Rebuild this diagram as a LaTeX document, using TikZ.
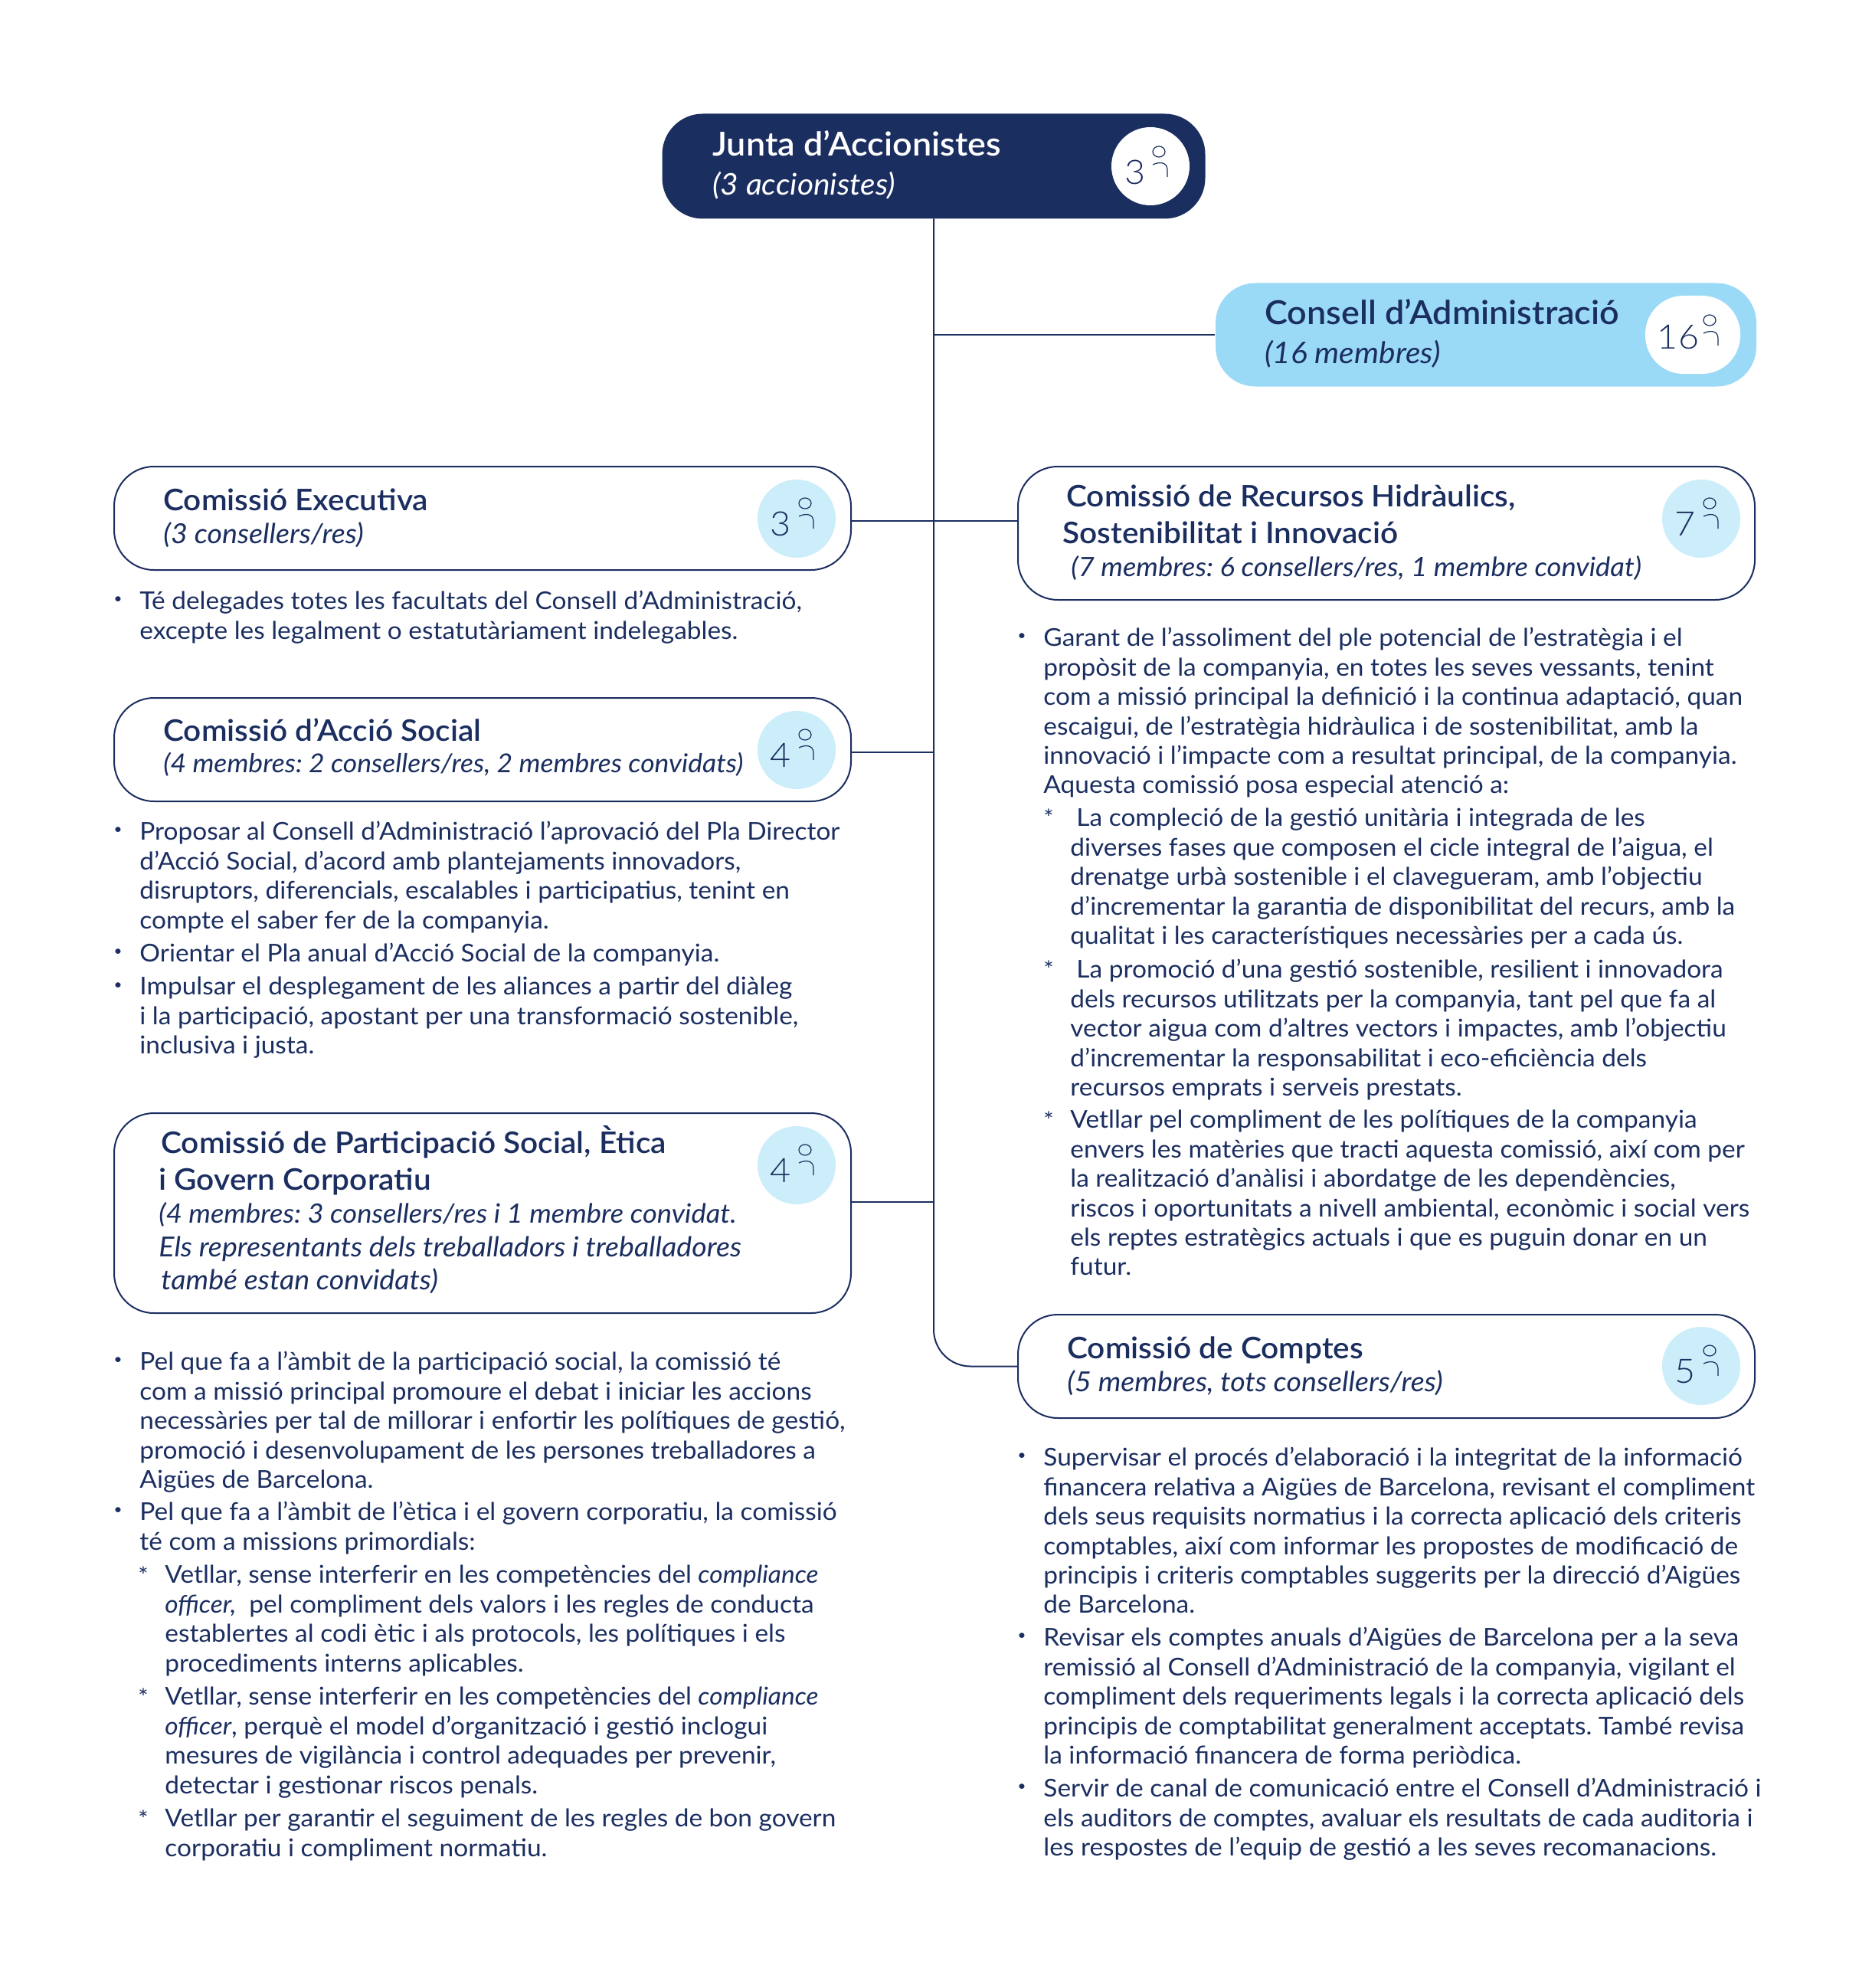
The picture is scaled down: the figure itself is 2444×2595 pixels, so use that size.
\documentclass[tikz,border=0pt]{standalone}
\usepackage{fontspec}
\setmainfont{Lato}[BoldFont=* Semibold,FakeStretch=1.045]
\newfontfamily\lightfont{Lato Light}[FakeStretch=1.06]
\usetikzlibrary{calc}
\definecolor{navy}{HTML}{1B2E60}
\definecolor{sky}{HTML}{9BDAF6}
\definecolor{pale}{HTML}{CCEDFA}
\tikzset{
  pill/.style={draw=navy,line width=1pt,fill=white,rounded corners=26pt,minimum height=67.5pt,inner sep=0pt},
  link/.style={draw=navy,line width=1pt},
  badge/.style={circle,fill=pale,minimum size=51pt,inner sep=0pt},
  count/.style={text=navy,font=\lightfont\fontsize{22}{22}\selectfont,inner sep=0pt},
  title/.style={anchor=mid west,inner sep=0pt,yshift=-4.5pt,text=navy,font=\fontsize{19.4}{19.4}\selectfont\bfseries\frenchspacing},
  bigtitle/.style={title,font=\fontsize{21.5}{21.5}\selectfont\bfseries\frenchspacing},
  sub/.style={anchor=mid west,inner sep=0pt,yshift=-3.75pt,text=navy,font=\fontsize{18}{18}\selectfont\itshape\frenchspacing},
  bigsub/.style={sub,font=\fontsize{19.5}{19.5}\selectfont\itshape\frenchspacing},
  tightsub/.style={sub,font=\fontsize{17.4}{17.4}\selectfont\itshape\frenchspacing},
  narrowsub/.style={sub,font=\fontsize{17}{17}\selectfont\itshape\frenchspacing},
  body/.style={anchor=north west,inner sep=0pt,align=left,text=navy,font=\fontsize{16}{19.2}\selectfont\frenchspacing},
  bull/.style={anchor=center,inner sep=0pt,text=navy,font=\fontsize{9}{9}\selectfont},
  star/.style={anchor=north,inner sep=0pt,text=navy,font=\fontsize{15}{15}\selectfont},
  person/.pic={\draw[navy,line width=.6pt] (0,0) ellipse (8 and 7);
    \draw[navy,line width=.6pt] (-8,17) .. controls (0,13) and (11,13) .. (11,24) -- (11,33);}
}
\newcommand{\bitem}[4]{\node[bull] at (#1-28,#2) {•}; \node[body] (#3) at (#1,#2-12) {#4};}
\newcommand{\sitem}[4]{\node[star] at (#1-28,#2-11) {*}; \node[body] (#3) at (#1,#2-12) {#4};}
\begin{document}
\begin{tikzpicture}[x=.5pt,y=-.5pt]
\useasboundingbox (0,0) rectangle (2444,2595);
% boxes
\node[pill,fill=navy,minimum width=353.5pt] (junta) at (1219,217) {};
\node[pill,draw=none,fill=sky,minimum width=353pt] (consell) at (1940,437) {};
\node[pill,minimum width=481pt] (exec) at (630,676.5) {};
\node[pill,minimum width=481pt] (accio) at (630,978.5) {};
\node[pill,minimum width=481pt,minimum height=130.5pt] (part) at (630,1583.5) {};
\node[pill,minimum width=481pt,minimum height=87pt] (recursos) at (1810,696) {};
\node[pill,minimum width=481pt] (comptes) at (1810,1783.5) {};
% links
\coordinate (t1) at (1219,680);
\coordinate (t2) at (1219,982);
\coordinate (t3) at (1219,1569);
\draw[link,rounded corners=24pt] (junta.south) |- (comptes.west);
\draw[link] (junta.south |- consell.west) -- (consell.west);
\draw[link] (exec.east |- t1) -- (recursos.west |- t1);
\draw[link] (accio.east |- t2) -- (t2);
\draw[link] (part.east |- t3) -- (t3);
% badges
\node[badge,fill=white] (bjunta) at (1502,217) {};
\node[draw=none,fill=white,rounded corners=25pt,minimum width=62pt,minimum height=51pt,inner sep=0pt] (bconsell) at (2210,437) {};
\foreach \nm/\x/\y/\n in {bexec/1040/677/3,baccio/1040/979/4,bpart/1040/1521/4,brecursos/2221/677/7,bcomptes/2221/1783/5}{
  \node[badge] (\nm) at (\x,\y) {};
  \node[count] (\nm n) at ($(\nm)+(-21,7)$) {\n};
  \pic at ($(\nm)+(11,-20)$) {person};
}
\node[count] (bjuntan) at ($(bjunta)+(-20,8)$) {3};
\pic at ($(bjunta)+(11,-19)$) {person};
\node[count] (bconselln) at ($(bconsell)+(-19,3)$) {16};
\pic at ($(bconsell)+(22,-19)$) {person};
% titles
\node[bigtitle,text=white] (tjunta) at (930,189) {Junta d’Accionistes};
\node[bigsub,text=white] (sjunta) at (930,242) {(3 accionistes)};
\node[bigtitle] (tconsell) at (1651,409) {Consell d’Administració};
\node[bigsub] (sconsell) at (1651,462) {(16 membres)};
\node[title] (texec) at (213,652) {Comissió Executiva};
\node[sub] (sexec) at (213,697) {(3 consellers/res)};
\node[title] (taccio) at (213,953) {Comissió d’Acció Social};
\node[narrowsub] (saccio) at (213,996) {(4 membres: 2 consellers/res, 2 membres convidats)};
\node[title] (tpart) at (210,1491) {Comissió de Participació Social, Ètica};
\node[title] (tparti) at (207,1539) {i Govern Corporatiu};
\node[tightsub] (spart) at (207,1584) {(4 membres: 3 consellers/res i 1 membre convidat.};
\node[sub] (sparti) at (207,1628) {Els representants dels treballadors i treballadores};
\node[sub] (spartii) at (210,1671) {també estan convidats)};
\node[title] (trec) at (1392,647) {Comissió de Recursos Hidràulics,};
\node[title] (treci) at (1387,695) {Sostenibilitat i Innovació};
\node[tightsub] (srec) at (1398,740) {(7 membres: 6 consellers/res, 1 membre convidat)};
\node[title] (tcomptes) at (1393,1759) {Comissió de Comptes};
\node[sub] (scomptes) at (1393,1804) {(5 membres, tots consellers/res)};
% left column
\bitem{182}{783}{e1}{Té delegades totes les facultats del Consell d’Administració,\\excepte les legalment o estatutàriament indelegables.}
\bitem{182}{1084}{a1}{Proposar al Consell d’Administració l’aprovació del Pla Director\\d’Acció Social, d’acord amb plantejaments innovadors,\\disruptors, diferencials, escalables i participatius, tenint en\\compte el saber fer de la companyia.}
\bitem{182}{1243}{a2}{Orientar el Pla anual d’Acció Social de la companyia.}
\bitem{182}{1287}{a3}{Impulsar el desplegament de les aliances a partir del diàleg\\i la participació, apostant per una transformació sostenible,\\inclusiva i justa.}
\bitem{182}{1776}{p1}{Pel que fa a l’àmbit de la participació social, la comissió té\\com a missió principal promoure el debat i iniciar les accions\\necessàries per tal de millorar i enfortir les polítiques de gestió,\\promoció i desenvolupament de les persones treballadores a\\Aigües de Barcelona.}
\bitem{182}{1972}{p2}{Pel que fa a l’àmbit de l’ètica i el govern corporatiu, la comissió\\té com a missions primordials:}
\sitem{215}{2055}{p3}{Vetllar, sense interferir en les competències del \textit{compliance}\\\textit{officer,} \ pel compliment dels valors i les regles de conducta\\establertes al codi ètic i als protocols, les polítiques i els\\procediments interns aplicables.}
\sitem{215}{2214}{p4}{Vetllar, sense interferir en les competències del \textit{compliance}\\\textit{officer}, perquè el model d’organització i gestió inclogui\\mesures de vigilància i control adequades per prevenir,\\detectar i gestionar riscos penals.}
\sitem{215}{2373}{p5}{Vetllar per garantir el seguiment de les regles de bon govern\\corporatiu i compliment normatiu.}
% right column
\bitem{1362}{831}{r1}{Garant de l’assoliment del ple potencial de l’estratègia i el\\propòsit de la companyia, en totes les seves vessants, tenint\\com a missió principal la definició i la continua adaptació, quan\\escaigui, de l’estratègia hidràulica i de sostenibilitat, amb la\\innovació i l’impacte com a resultat principal, de la companyia.\\Aquesta comissió posa especial atenció a:}
\sitem{1397}{1067}{r2}{\hspace*{4pt}La compleció de la gestió unitària i integrada de les\\diverses fases que composen el cicle integral de l’aigua, el\\drenatge urbà sostenible i el clavegueram, amb l’objectiu\\d’incrementar la garantia de disponibilitat del recurs, amb la\\qualitat i les característiques necessàries per a cada ús.}
\sitem{1397}{1264}{r3}{\hspace*{4pt}La promoció d’una gestió sostenible, resilient i innovadora\\dels recursos utilitzats per la companyia, tant pel que fa al\\vector aigua com d’altres vectors i impactes, amb l’objectiu\\d’incrementar la responsabilitat i eco-eficiència dels\\recursos emprats i serveis prestats.}
\sitem{1397}{1461}{r4}{Vetllar pel compliment de les polítiques de la companyia\\envers les matèries que tracti aquesta comissió, així com per\\la realització d’anàlisi i abordatge de les dependències,\\riscos i oportunitats a nivell ambiental, econòmic i social vers\\els reptes estratègics actuals i que es puguin donar en un\\futur.}
\bitem{1362}{1901}{c1}{Supervisar el procés d’elaboració i la integritat de la informació\\financera relativa a Aigües de Barcelona, revisant el compliment\\dels seus requisits normatius i la correcta aplicació dels criteris\\comptables, així com informar les propostes de modificació de\\principis i criteris comptables suggerits per la direcció d’Aigües\\de Barcelona.}
\bitem{1362}{2136}{c2}{Revisar els comptes anuals d’Aigües de Barcelona per a la seva\\remissió al Consell d’Administració de la companyia, vigilant el\\compliment dels requeriments legals i la correcta aplicació dels\\principis de comptabilitat generalment acceptats. També revisa\\la informació financera de forma periòdica.}
\bitem{1362}{2333}{c3}{Servir de canal de comunicació entre el Consell d’Administració i\\els auditors de comptes, avaluar els resultats de cada auditoria i\\les respostes de l’equip de gestió a les seves recomanacions.}
\end{tikzpicture}
\end{document}
